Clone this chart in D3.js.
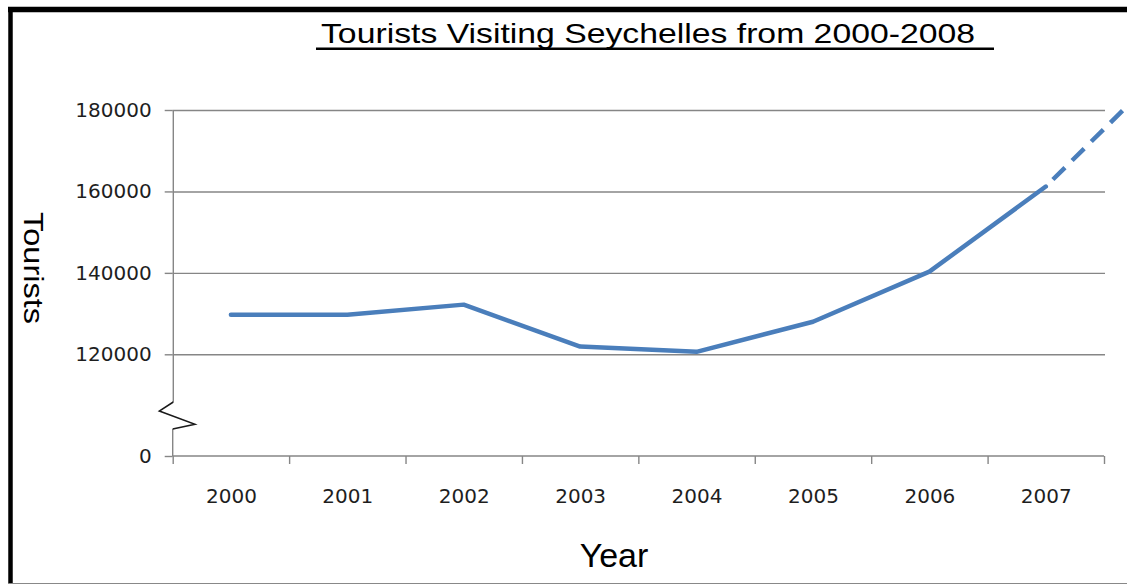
<!DOCTYPE html>
<html>
<head>
<meta charset="utf-8">
<script src="https://cdn.jsdelivr.net/npm/d3@7/dist/d3.min.js"></script>
<style>
  html, body { margin: 0; padding: 0; background: #ffffff; }
  svg { display: block; }
</style>
</head>
<body>
<svg id="chart" width="1127" height="584"></svg>
<script>
// ---- Data ----
const years = [2000, 2001, 2002, 2003, 2004, 2005, 2006, 2007];
const tourists = [129700, 129700, 132200, 121900, 120600, 128000, 140300, 161200];
const projectedYears = [2007, 2008];
const projectedTourists = [161200, 189500];
const yTickValues = [0, 120000, 140000, 160000, 180000];
const gridValues = [120000, 140000, 160000, 180000];
const xBoundaries = [1999.5, 2000.5, 2001.5, 2002.5, 2003.5, 2004.5, 2005.5, 2006.5, 2007.5];
const titleText = "Tourists Visiting Seychelles from 2000-2008";
const xTitle = "Year";
const yTitle = "Tourists";

// ---- Layout ----
const svg = d3.select("#chart");
const W = 1127, H = 584;
const plotLeft = 172.7, plotRight = 1104;
const zeroY = 456, breakTop = 402, breakBottom = 429;

svg.append("rect").attr("x", 0).attr("y", 0).attr("width", W).attr("height", H).attr("fill", "#ffffff");

// frame
svg.append("line").attr("x1", 10.5).attr("x2", 10.5).attr("y1", 7).attr("y2", 584)
  .attr("stroke", "#000").attr("stroke-width", 4.5);
svg.append("line").attr("x1", 8).attr("x2", W).attr("y1", 9.5).attr("y2", 9.5)
  .attr("stroke", "#000").attr("stroke-width", 5.5);
svg.append("line").attr("x1", 8).attr("x2", W).attr("y1", 583.5).attr("y2", 583.5)
  .attr("stroke", "#888").attr("stroke-width", 1.2);

// scales
const x = d3.scaleLinear().domain([1999.5, 2007.5]).range([plotLeft, plotRight]);
const y = d3.scaleLinear().domain([0, 120000, 180000]).range([zeroY, 354.3, 110]);

const gridColor = "#868686";
const textColor = "#1e1e1e";

// gridlines
const grid = svg.append("g").attr("transform", `translate(${plotLeft},0)`)
  .call(d3.axisLeft(y).tickValues(gridValues).tickSize(-(1105 - plotLeft)).tickFormat(""));
grid.select(".domain").remove();
grid.selectAll("line").attr("stroke", gridColor).attr("stroke-width", 1.4);

// y axis ticks + labels
const yAxis = svg.append("g").attr("transform", `translate(${plotLeft},0)`)
  .call(d3.axisLeft(y).tickValues(yTickValues).tickSize(8).tickPadding(13).tickFormat(d3.format("d")));
yAxis.select(".domain").remove();
yAxis.selectAll("line").attr("stroke", gridColor).attr("stroke-width", 1.4);
yAxis.selectAll("text").attr("fill", textColor)
  .style("font-family", "'DejaVu Sans', sans-serif").style("font-size", "20px");

// y axis line with break
svg.append("line").attr("x1", plotLeft + 0.6).attr("x2", plotLeft + 0.6)
  .attr("y1", y(180000)).attr("y2", breakTop)
  .attr("stroke", gridColor).attr("stroke-width", 1.4);
svg.append("line").attr("x1", plotLeft).attr("x2", plotLeft)
  .attr("y1", breakBottom).attr("y2", zeroY)
  .attr("stroke", gridColor).attr("stroke-width", 1.4);
svg.append("path")
  .attr("d", d3.line()([[plotLeft + 0.6, breakTop], [159.3, 411], [195, 424.3], [plotLeft, breakBottom]]))
  .attr("fill", "none").attr("stroke", "#1a1a1a").attr("stroke-width", 1.5);

// x axis
const xAxis = svg.append("g").attr("transform", `translate(0,${zeroY})`)
  .call(d3.axisBottom(x).tickValues(xBoundaries).tickSize(8).tickFormat(""));
xAxis.select(".domain").attr("stroke", gridColor).attr("stroke-width", 1.4)
  .attr("d", `M${plotLeft},0H${plotRight}`);
xAxis.selectAll("line").attr("stroke", gridColor).attr("stroke-width", 1.4);

const xLabels = svg.append("g").attr("transform", `translate(0,${zeroY})`)
  .call(d3.axisBottom(x).tickValues(years).tickSize(0).tickPadding(33).tickFormat(d3.format("d")));
xLabels.select(".domain").remove();
xLabels.selectAll("text").attr("fill", textColor)
  .style("font-family", "'DejaVu Sans', sans-serif").style("font-size", "20px");

// data line
const lineGen = d3.line().x(d => x(d[0])).y(d => y(d[1]));
const lineColor = "#4a7ebb";
svg.append("path")
  .attr("d", lineGen(years.map((yr, i) => [yr, tourists[i]])))
  .attr("fill", "none").attr("stroke", lineColor).attr("stroke-width", 4.5)
  .attr("stroke-linejoin", "round").attr("stroke-linecap", "round");
svg.append("path")
  .attr("d", lineGen(projectedYears.map((yr, i) => [yr, projectedTourists[i]])))
  .attr("fill", "none").attr("stroke", lineColor).attr("stroke-width", 4.5)
  .attr("stroke-dasharray", "17,10").attr("stroke-dashoffset", 17);

// titles
svg.append("text").attr("x", 321).attr("y", 43.3)
  .attr("textLength", 654).attr("lengthAdjust", "spacingAndGlyphs")
  .style("font-family", "'Liberation Sans', Arial, sans-serif").style("font-size", "28px")
  .attr("fill", "#000").text(titleText);
svg.append("line").attr("x1", 316).attr("x2", 994).attr("y1", 48.8).attr("y2", 48.8)
  .attr("stroke", "#000").attr("stroke-width", 2.6);

svg.append("text").attr("x", 614).attr("y", 566.5).attr("text-anchor", "middle")
  .style("font-family", "'Liberation Sans', Arial, sans-serif").style("font-size", "34px")
  .attr("fill", "#000").text(xTitle);

svg.append("text").attr("transform", "translate(24,268) rotate(90)").attr("text-anchor", "middle")
  .attr("textLength", 112).attr("lengthAdjust", "spacingAndGlyphs")
  .style("font-family", "'Liberation Sans', Arial, sans-serif").style("font-size", "27px")
  .attr("fill", "#000").text(yTitle);
</script>
</body>
</html>
